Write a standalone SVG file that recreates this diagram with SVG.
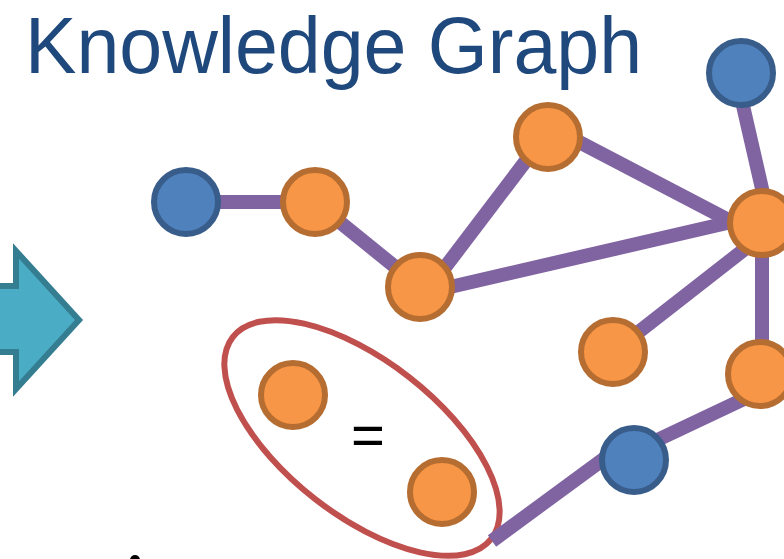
<svg xmlns="http://www.w3.org/2000/svg" width="784" height="559" viewBox="0 0 784 559">
<style>
.edge{stroke:#8064A2;stroke-width:14;fill:none}
.blue{fill:#4F81BD;stroke:#385D8A;stroke-width:6}
.orange{fill:#F79646;stroke:#B66D31;stroke-width:6}
.title{font-family:"Liberation Sans",sans-serif;font-size:80px;fill:#1F497D}
</style>
<rect width="784" height="559" fill="#FFFFFF"/>
<text class="title" x="25" y="73" textLength="617" lengthAdjust="spacingAndGlyphs">Knowledge Graph</text>
<polygon id="arrow" points="-10,286 16,286 16,251 79,320 16,389 16,352 -10,352" fill="#4BACC6" stroke="#357D91" stroke-width="6"/>
<g id="connectors">
<line class="edge" x1="186" y1="202" x2="315" y2="202"/>
<line class="edge" x1="315" y1="202" x2="420" y2="287"/>
<line class="edge" x1="421" y1="299" x2="547" y2="133"/>
<line class="edge" x1="420" y1="294" x2="740" y2="220"/>
<line class="edge" x1="560" y1="132" x2="740" y2="226"/>
<line class="edge" x1="736" y1="75" x2="768" y2="215"/>
<line class="edge" x1="613" y1="352" x2="750" y2="245"/>
<line class="edge" x1="762" y1="223" x2="762" y2="374"/>
<line class="edge" x1="765" y1="389" x2="634" y2="451"/>
</g>
<ellipse id="group" cx="362" cy="438" rx="164" ry="77" transform="rotate(38 362 438)" fill="none" stroke="#C0504D" stroke-width="6"/>
<line class="edge" x1="492" y1="541" x2="620" y2="447"/>
<g id="n1"><circle class="blue" cx="186" cy="202" r="32"/></g>
<g id="n2"><circle class="orange" cx="315" cy="202" r="32"/></g>
<g id="n3"><circle class="orange" cx="420" cy="287" r="32"/></g>
<g id="n4"><circle class="orange" cx="548" cy="137" r="32"/></g>
<g id="n5"><circle class="blue" cx="741" cy="73" r="32"/></g>
<g id="n6"><circle class="orange" cx="762" cy="223" r="32"/></g>
<g id="n7"><circle class="orange" cx="613" cy="352" r="32"/></g>
<g id="n8"><circle class="orange" cx="760" cy="374" r="32"/></g>
<g id="n9"><circle class="blue" cx="634" cy="460" r="32"/></g>
<g id="n10"><circle class="orange" cx="293" cy="395" r="32"/></g>
<g id="n11"><circle class="orange" cx="442" cy="492" r="32"/></g>
<text x="368" y="455" text-anchor="middle" font-family="Liberation Sans, sans-serif" font-size="58" fill="#000000">=</text>
<circle cx="135" cy="560" r="5" fill="#000000"/>
</svg>
